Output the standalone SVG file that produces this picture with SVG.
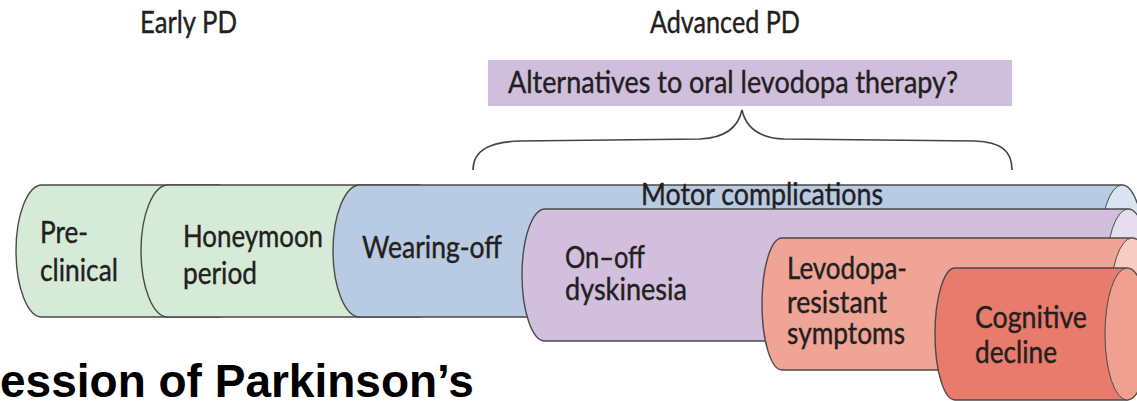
<svg xmlns="http://www.w3.org/2000/svg" width="1137" height="401" viewBox="0 0 1137 401">
<style>
.t{font-family:Lato,"Open Sans",sans-serif;font-size:30px;fill:#231f20;stroke:#231f20;stroke-width:0.4}
.body{stroke:#4a4a4a;stroke-width:1.4}
.cap{stroke:#4a4a4a;stroke-width:1}
.brace{fill:none;stroke:#444;stroke-width:1.6}
</style>
<rect width="1137" height="401" fill="#ffffff"/>
<g id="headers">
<text class="t" x="140" y="33" textLength="97" lengthAdjust="spacingAndGlyphs">Early PD</text>
<text class="t" x="650" y="33" textLength="150" lengthAdjust="spacingAndGlyphs">Advanced PD</text>
</g>
<g id="alternatives">
<rect x="488" y="60" width="524" height="46" fill="#cfbedc"/>
<text class="t" x="508" y="93" font-size="28" textLength="450" lengthAdjust="spacingAndGlyphs">Alternatives to oral levodopa therapy?</text>
</g>
<g id="connectors">
<path class="brace" d="M473,170 C473,150 490,142 520,141 L700,139 C725,138 738,128 742,110 C746,128 759,138 784,139 L975,141 C1000,142 1012,150 1012,170"/>
</g>
<g id="preclinical">
<path class="body" fill="#d5ebd7" d="M42,185 L220,185 L220,317 L42,317 A26,66 0 0 1 42,185 Z"/>
<text class="t" x="40" y="243" textLength="48" lengthAdjust="spacingAndGlyphs">Pre-</text>
<text class="t" x="40" y="281" textLength="78" lengthAdjust="spacingAndGlyphs">clinical</text>
</g>
<g id="honeymoon">
<path class="body" fill="#d5ebd7" d="M168,185 L420,185 L420,317 L168,317 A27,66 0 0 1 168,185 Z"/>
<text class="t" x="183" y="247" textLength="140" lengthAdjust="spacingAndGlyphs">Honeymoon</text>
<text class="t" x="183" y="284" textLength="74" lengthAdjust="spacingAndGlyphs">period</text>
</g>
<g id="wearing-off">
<path class="body" fill="#b9cae3" d="M360,185 L1122,185 A22,66 0 0 1 1122,317 L360,317 A27,66 0 0 1 360,185 Z"/>
<ellipse class="cap" cx="1122" cy="251" rx="22" ry="66" fill="#d9e4f1"/>
<text class="t" x="362" y="258" textLength="140" lengthAdjust="spacingAndGlyphs">Wearing-off</text>
<text class="t" x="641" y="205" font-size="27" textLength="242" lengthAdjust="spacingAndGlyphs">Motor complications</text>
</g>
<g id="on-off">
<path class="body" fill="#d2bfdd" d="M545,209 L1128,209 A22,66 0 0 1 1128,341 L545,341 A23,66 0 0 1 545,209 Z"/>
<ellipse class="cap" cx="1128" cy="275" rx="22" ry="66" fill="#e6ddef"/>
<text class="t" x="565" y="268" textLength="80" lengthAdjust="spacingAndGlyphs">On–off</text>
<text class="t" x="565" y="300" textLength="122" lengthAdjust="spacingAndGlyphs">dyskinesia</text>
</g>
<g id="levodopa-resistant">
<path class="body" fill="#efa495" d="M782,238 L1132,238 A22,66 0 0 1 1132,370 L782,370 A20,66 0 0 1 782,238 Z"/>
<ellipse class="cap" cx="1132" cy="304" rx="22" ry="66" fill="#f7cdc3"/>
<text class="t" x="787" y="279" textLength="120" lengthAdjust="spacingAndGlyphs">Levodopa-</text>
<text class="t" x="787" y="313" textLength="100" lengthAdjust="spacingAndGlyphs">resistant</text>
<text class="t" x="787" y="344" textLength="118" lengthAdjust="spacingAndGlyphs">symptoms</text>
</g>
<g id="cognitive-decline">
<path class="body" fill="#e87b6c" d="M955,268 L1127,268 A22,66 0 0 1 1127,400 L955,400 A20,66 0 0 1 955,268 Z"/>
<ellipse class="cap" cx="1127" cy="334" rx="22" ry="66" fill="#f0a090"/>
<text class="t" x="975" y="328" textLength="112" lengthAdjust="spacingAndGlyphs">Cognitive</text>
<text class="t" x="975" y="363" textLength="82" lengthAdjust="spacingAndGlyphs">decline</text>
</g>
<g id="caption">
<text x="0" y="397" font-family="'Liberation Sans',Arial,sans-serif" font-weight="bold" font-size="46" fill="#000">ession of Parkinson’s</text>
</g>
</svg>
